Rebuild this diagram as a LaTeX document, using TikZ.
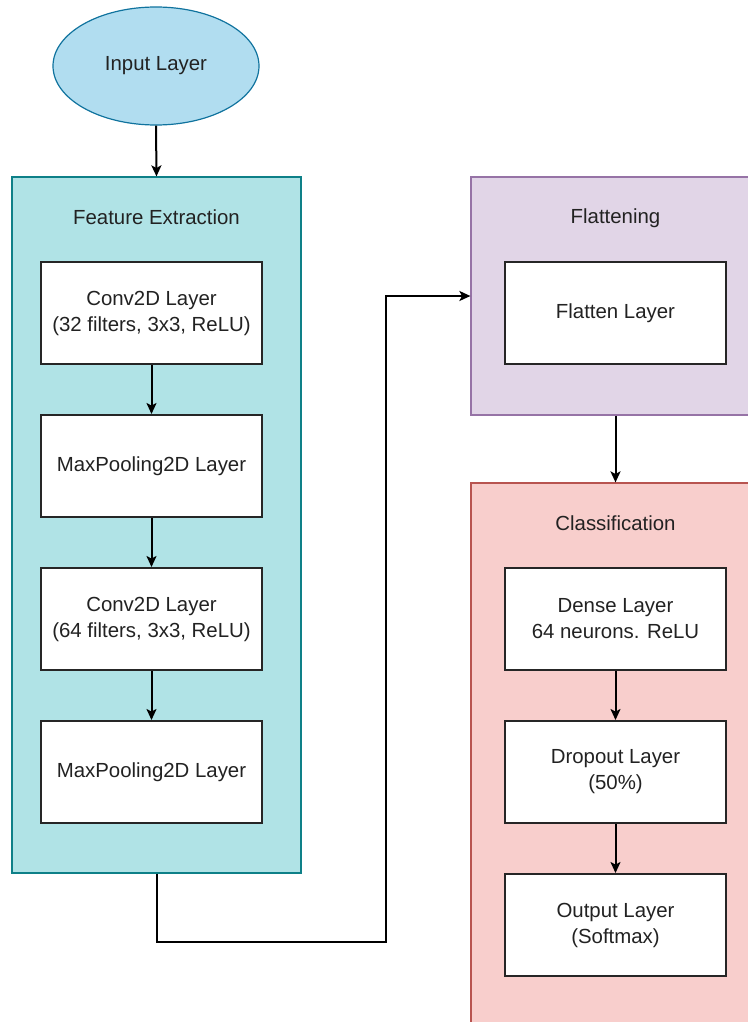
\documentclass[tikz,border=0pt]{standalone}
\usepackage{fontspec}
\setmainfont{Liberation Sans}
\usetikzlibrary{arrows.meta,shapes.geometric}
\definecolor{tealfill}{HTML}{B0E3E6}
\definecolor{tealline}{HTML}{0E8088}
\definecolor{purfill}{HTML}{E1D5E7}
\definecolor{purline}{HTML}{9673A6}
\definecolor{redfill}{HTML}{F8CECC}
\definecolor{redline}{HTML}{B85450}
\definecolor{inpfill}{HTML}{B1DDF0}
\definecolor{inpline}{HTML}{10739E}
\definecolor{txt}{HTML}{222222}
\tikzset{
  every node/.style={font=\fontsize{10.2}{13}\selectfont, text=txt, align=center, inner sep=0pt},
  container/.style={draw=#1line, fill=#1fill, line width=0.6pt, minimum width=144.5pt},
  layerbox/.style={draw=black!85, fill=white, line width=1pt, minimum width=110.5pt, minimum height=51pt},
  title/.style={},
  conn/.style={draw=black, line width=1pt, -{Stealth[length=5.5pt,width=5pt,inset=1.3pt]}},
}
\begin{document}
\begin{tikzpicture}[x=0.5pt,y=-0.5pt]
\useasboundingbox (0,0) rectangle (748,1022);
\clip (0,0) rectangle (748,1022);
% input
\node[ellipse, draw=inpline, fill=inpfill, line width=0.6pt, minimum width=103pt, minimum height=59pt] (inp) at (156,66) {Input Layer};
% feature extraction container
\node[container=teal, minimum height=348pt] (fe) at (156.5,525) {};
\node[title] (fet) at (156.5,217) {Feature Extraction};
\node[layerbox] (c1) at (151.5,313) {Conv2D Layer\\(32 filters, 3x3, ReLU)};
\node[layerbox] (m1) at (151.5,466) {MaxPooling2D Layer};
\node[layerbox] (c2) at (151.5,619) {Conv2D Layer\\(64 filters, 3x3, ReLU)};
\node[layerbox] (m2) at (151.5,772) {MaxPooling2D Layer};
% flattening
\node[container=pur, minimum height=119pt] (fl) at (615.5,296) {};
\node[title] (flt) at (615.5,218) {Flattening};
\node[layerbox] (fla) at (615.5,313) {Flatten Layer};
% classification
\node[container=red, minimum height=272pt] (cl) at (615.5,755) {};
\node[title] (clt) at (615.5,523) {Classification};
\node[layerbox] (de) at (615.5,619) {Dense Layer\\64 neurons. ReLU};
\node[layerbox] (dr) at (615.5,772) {Dropout Layer\\(50\%)};
\node[layerbox] (ou) at (615.5,925) {Output Layer\\(Softmax)};
% connectors
\draw[conn] (inp.south) -- (fe.north);
\draw[conn] (c1) -- (m1);
\draw[conn] (m1) -- (c2);
\draw[conn] (c2) -- (m2);
\coordinate (bend) at (386,942);
\draw[conn] (fe.south) |- (bend) |- (fl.west);
\draw[conn] (fl.south) -- (cl.north);
\draw[conn] (de) -- (dr);
\draw[conn] (dr) -- (ou);
\end{tikzpicture}
\end{document}
